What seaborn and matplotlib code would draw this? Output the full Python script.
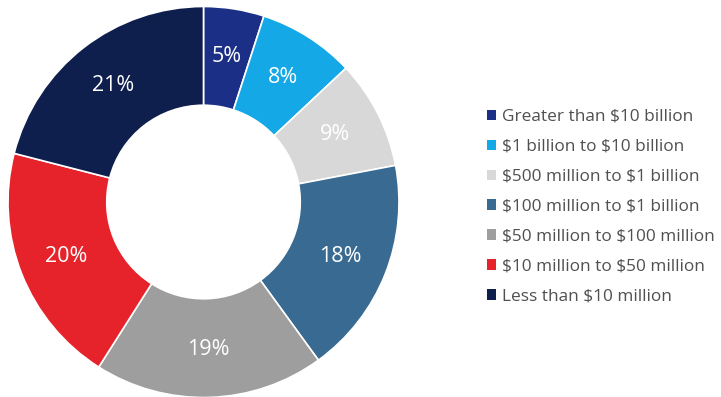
import matplotlib
matplotlib.use("Agg")
import matplotlib.pyplot as plt
from matplotlib.patches import Patch
import seaborn as sns

categories = [
    "Greater than $10 billion",
    "$1 billion to $10 billion",
    "$500 million to $1 billion",
    "$100 million to $1 billion",
    "$50 million to $100 million",
    "$10 million to $50 million",
    "Less than $10 million",
]
shares = [5, 8, 9, 18, 19, 20, 21]
colors = ["#1b2f86", "#14a8e6", "#d8d8d8", "#386a92", "#9e9e9e", "#e6232a", "#0e1f4e"]

sns.set_theme(style="white")
plt.rcParams["font.family"] = ["Open Sans", "DejaVu Sans"]
plt.rcParams["text.parse_math"] = False

fig = plt.figure(figsize=(7.21, 3.97), dpi=100)
W, H = 721, 397
cx, cy, r = 203.5, 202, 195.5
ax = fig.add_axes([(cx - r) / W, (H - cy - r) / H, 2 * r / W, 2 * r / H])

wedges, texts, autotexts = ax.pie(
    shares,
    colors=colors,
    startangle=90,
    counterclock=False,
    radius=1.0,
    autopct=lambda p: f"{p:.0f}%",
    pctdistance=0.755,
    wedgeprops=dict(width=0.505, edgecolor="white", linewidth=1.2),
    textprops=dict(color="white", fontsize=15.5),
)
ax.set_xlim(-1, 1)
ax.set_ylim(-1, 1)
ax.set_aspect("equal")
ax.axis("off")

handles = [Patch(facecolor=c, edgecolor="none") for c in colors]
leg = fig.legend(
    handles, categories,
    loc="upper left",
    bbox_to_anchor=(480 / W, 1 - 102 / H),
    frameon=False,
    fontsize=12.4,
    handlelength=0.55,
    handleheight=0.55,
    handletextpad=0.35,
    labelspacing=0.81,
    borderaxespad=0,
)
for t in leg.get_texts():
    t.set_color("#505050")

fig.savefig("out.png", dpi=100)
